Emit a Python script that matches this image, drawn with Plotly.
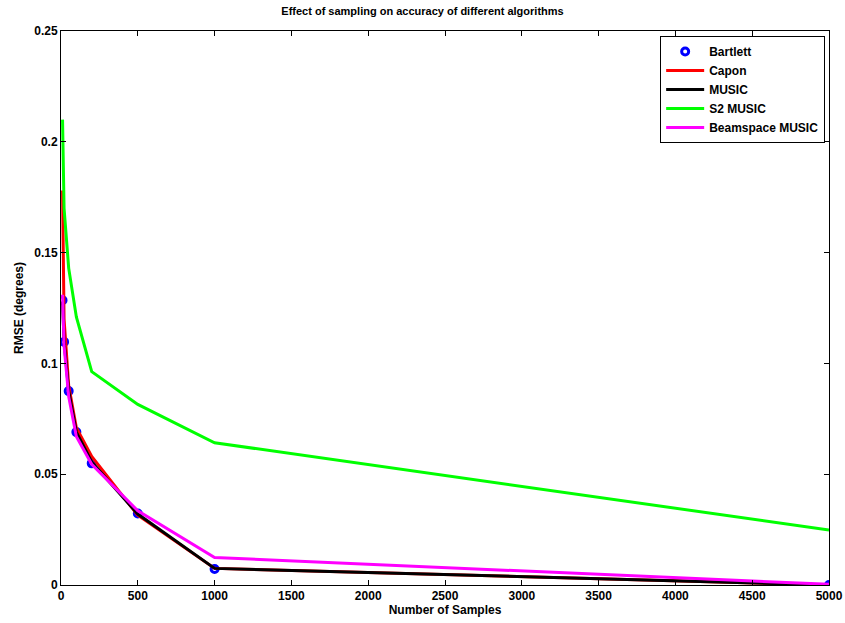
import plotly.graph_objects as go

# Number of snapshots used for each estimate
samples = [10, 20, 50, 100, 200, 500, 1000, 5000]

# RMSE (degrees) per algorithm
bartlett = [0.1285, 0.1097, 0.0875, 0.0690, 0.0549, 0.0323, 0.0072, 0.0000]
capon = [0.1780, 0.1200, 0.0900, 0.0710, 0.0580, 0.0315, 0.0075, 0.0000]
music = [0.1280, 0.1100, 0.0875, 0.0690, 0.0555, 0.0320, 0.0075, 0.0000]
s2_music = [0.2100, 0.1700, 0.1430, 0.1210, 0.0963, 0.0815, 0.0642, 0.0248]
beamspace_music = [0.1310, 0.1080, 0.0850, 0.0670, 0.0545, 0.0335, 0.0124, 0.0003]

x_ticks = list(range(0, 5001, 500))
y_ticks = [0, 0.05, 0.1, 0.15, 0.2, 0.25]
y_tick_labels = ["0", "0.05", "0.1", "0.15", "0.2", "0.25"]

FONT = "Liberation Sans, Arial, Helvetica, sans-serif"

fig = go.Figure()
fig.add_trace(go.Scatter(
    x=samples, y=bartlett, name="Bartlett", mode="markers",
    marker=dict(symbol="circle-open", size=7, color="#0000ff",
                line=dict(width=3, color="#0000ff")),
))
fig.add_trace(go.Scatter(x=samples, y=capon, name="Capon", mode="lines",
                         line=dict(color="#ff0000", width=3)))
fig.add_trace(go.Scatter(x=samples, y=music, name="MUSIC", mode="lines",
                         line=dict(color="#000000", width=3)))
fig.add_trace(go.Scatter(x=samples, y=s2_music, name="S2 MUSIC", mode="lines",
                         line=dict(color="#00ff00", width=3)))
fig.add_trace(go.Scatter(x=samples, y=beamspace_music, name="Beamspace MUSIC",
                         mode="lines", line=dict(color="#ff00ff", width=3)))

axis_common = dict(
    showgrid=False, zeroline=False, showline=True, linecolor="black",
    linewidth=1, mirror="ticks", ticks="inside", ticklen=5, tickcolor="black",
    automargin=False,
    tickfont=dict(family=FONT, size=12, color="black", weight="bold"),
)

fig.update_layout(
    width=845, height=623,
    margin=dict(l=61, r=16, t=31, b=38),
    paper_bgcolor="white", plot_bgcolor="white",
    title=dict(text="Effect of sampling on accuracy of different algorithms",
               x=0.5, xanchor="center", y=0.988, yanchor="top",
               font=dict(family=FONT, size=11, color="black", weight="bold")),
    xaxis=dict(range=[0, 5000], tickvals=x_ticks,
               title=dict(text="Number of Samples", standoff=3,
                          font=dict(family=FONT, size=12, color="black", weight="bold")),
               **axis_common),
    yaxis=dict(range=[0, 0.25], tickvals=y_ticks, ticktext=y_tick_labels,
               title=dict(text="RMSE (degrees)", standoff=8,
                          font=dict(family=FONT, size=12, color="black", weight="bold")),
               **axis_common),
    legend=dict(x=0.995, xanchor="right", y=0.991, yanchor="top",
                bgcolor="white", bordercolor="black", borderwidth=1,
                font=dict(family=FONT, size=12, color="black", weight="bold"),
                tracegroupgap=0, itemwidth=38),
    showlegend=True,
)

fig.write_html("out.html")
